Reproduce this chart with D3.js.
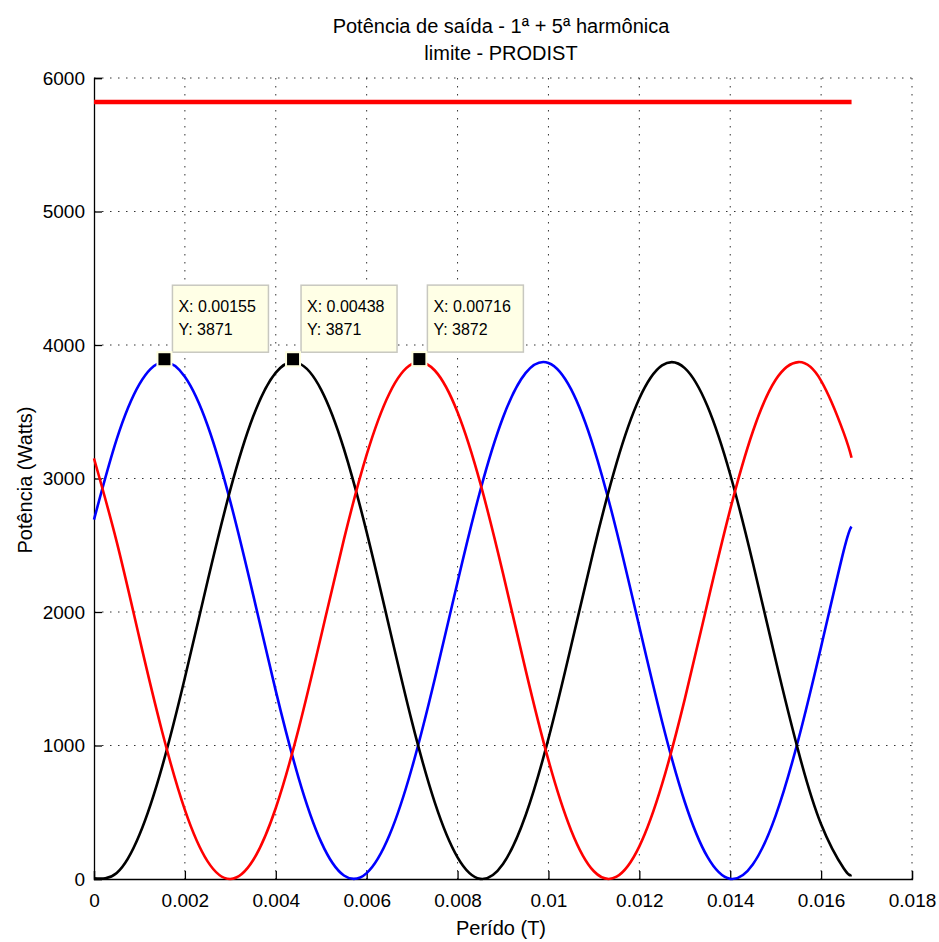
<!DOCTYPE html>
<html>
<head>
<meta charset="utf-8">
<script src="https://cdn.jsdelivr.net/npm/d3@7"></script>
<style>
  body { margin: 0; background: #fff; }
  svg text { font-family: Arial, "Liberation Sans", sans-serif; fill: #000; }
</style>
</head>
<body>
<div id="chart"></div>
<script>
// time samples (s), every 0.0005 plus the end of the 60 Hz period
const tempo = [0, 0.0005, 0.001, 0.0015, 0.002, 0.0025, 0.003, 0.0035, 0.004, 0.0045,
  0.005, 0.0055, 0.006, 0.0065, 0.007, 0.0075, 0.008, 0.0085, 0.009, 0.0095,
  0.01, 0.0105, 0.011, 0.0115, 0.012, 0.0125, 0.013, 0.0135, 0.014, 0.0145,
  0.015, 0.0155, 0.016, 0.0165, 0.01667];

const faseAzul = [2692, 3295, 3707, 3871, 3762, 3397, 2827, 2132, 1409, 760,
  276, 26, 44, 327, 837, 1500, 2225, 2910, 3457, 3791,
  3865, 3667, 3226, 2605, 1889, 1180, 577, 165, 1, 110,
  475, 1045, 1740, 2463, 2640];

const fasePreta = [5, 45, 331, 842, 1507, 2232, 2916, 3462, 3793, 3864,
  3664, 3221, 2598, 1882, 1173, 572, 162, 1, 112, 479,
  1051, 1747, 2470, 3117, 3599, 3847, 3827, 3541, 3030, 2365,
  1640, 956, 410, 79, 30];

const faseVermelha = [3150, 2525, 1804, 1103, 518, 132, 0, 140, 532, 1121,
  1824, 2544, 3178, 3637, 3858, 3809, 3496, 2965, 2289, 1563,
  890, 364, 58, 17, 244, 710, 1347, 2068, 2769, 3354,
  3740, 3872, 3732, 3340, 3155];

const limiteTempo = [0, 0.01667];
const limiteValor = [5820, 5820];

const dataTipX = [0.00155, 0.00438, 0.00716];
const dataTipY = [3871, 3871, 3872];

const xTicks = [0, 0.002, 0.004, 0.006, 0.008, 0.01, 0.012, 0.014, 0.016, 0.018];
const yTicks = [0, 1000, 2000, 3000, 4000, 5000, 6000];

const W = 939, H = 942;
const margin = {top: 78, right: 27, bottom: 63, left: 94};
const width = W - margin.left - margin.right;
const height = H - margin.top - margin.bottom;

const svg = d3.select("#chart").append("svg")
    .attr("width", W)
    .attr("height", H);

const g = svg.append("g")
    .attr("transform", "translate(" + margin.left + "," + margin.top + ")");

const x = d3.scaleLinear().domain([0, 0.018]).range([0, width]);
const y = d3.scaleLinear().domain([0, 6000]).range([height, 0]);

// dotted grid
g.append("g").selectAll("line").data(xTicks.slice(1)).join("line")
    .attr("x1", d => x(d)).attr("x2", d => x(d))
    .attr("y1", 0).attr("y2", height)
    .attr("stroke", "#333").attr("stroke-width", 1)
    .attr("stroke-dasharray", "1.5,6.5");
g.append("g").selectAll("line").data(yTicks.slice(1)).join("line")
    .attr("x1", 0).attr("x2", width)
    .attr("y1", d => y(d)).attr("y2", d => y(d))
    .attr("stroke", "#333").attr("stroke-width", 1)
    .attr("stroke-dasharray", "1.5,6.5");

// axes with inward ticks
const xAxis = d3.axisBottom(x).tickValues(xTicks).tickSize(-8).tickPadding(18)
    .tickFormat(d => d === 0 ? "0" : String(+d.toFixed(3)));
const yAxis = d3.axisLeft(y).tickValues(yTicks).tickSize(-8).tickPadding(9)
    .tickFormat(d3.format("d"));

const gx = g.append("g").attr("transform", "translate(0," + height + ")").call(xAxis);
const gy = g.append("g").call(yAxis);
[gx, gy].forEach(a => {
  a.select(".domain").attr("stroke", "#000").attr("stroke-width", 1.3);
  a.selectAll(".tick line").attr("stroke", "#000").attr("stroke-width", 1.3);
  a.selectAll("text").attr("font-size", 19).attr("fill", "#000");
});
gx.selectAll(".tick text").attr("dy", "0").attr("y", 28);

// curves
const linha = v => d3.line()
    .x((d, i) => x(tempo[i]))
    .y(d => y(Math.max(0, d)))
    .curve(d3.curveNatural)(v);

[[faseAzul, "#0000ff"], [fasePreta, "#000000"], [faseVermelha, "#ff0000"]].forEach(([v, c]) => {
  g.append("path")
      .attr("d", linha(v))
      .attr("fill", "none")
      .attr("stroke", c)
      .attr("stroke-width", 2.6);
});

// PRODIST limit
g.append("path")
    .attr("d", d3.line().x((d, i) => x(limiteTempo[i])).y(d => y(d))(limiteValor))
    .attr("fill", "none")
    .attr("stroke", "#ff0000")
    .attr("stroke-width", 4.5);

// data tips
dataTipX.forEach((dx, i) => {
  const px = x(dx), py = y(dataTipY[i]) - 3;
  const tip = g.append("g");
  tip.append("rect")
      .attr("x", px + 8).attr("y", py - 74)
      .attr("width", 96).attr("height", 67)
      .attr("fill", "#ffffe6").attr("stroke", "#c8c8c0").attr("stroke-width", 1.5);
  tip.append("text").attr("x", px + 14).attr("y", py - 47)
      .attr("font-size", 16).text("X: " + dx.toFixed(5));
  tip.append("text").attr("x", px + 14).attr("y", py - 24)
      .attr("font-size", 16).text("Y: " + dataTipY[i]);
  tip.append("rect")
      .attr("x", px - 7).attr("y", py - 7)
      .attr("width", 14).attr("height", 14)
      .attr("fill", "#000").attr("stroke", "#ffffe0").attr("stroke-width", 2);
});

// titles and labels
const cx = margin.left + width / 2 - 2;
svg.append("text").attr("x", cx).attr("y", 33)
    .attr("text-anchor", "middle").attr("font-size", 20)
    .text("Potência de saída - 1ª + 5ª harmônica");
svg.append("text").attr("x", cx).attr("y", 60)
    .attr("text-anchor", "middle").attr("font-size", 20)
    .text("limite - PRODIST");
svg.append("text").attr("x", cx).attr("y", 935)
    .attr("text-anchor", "middle").attr("font-size", 20)
    .text("Perído (T)");
svg.append("text")
    .attr("transform", "translate(32," + 480 + ") rotate(-90)")
    .attr("text-anchor", "middle").attr("font-size", 20)
    .text("Potência (Watts)");
</script>
</body>
</html>
